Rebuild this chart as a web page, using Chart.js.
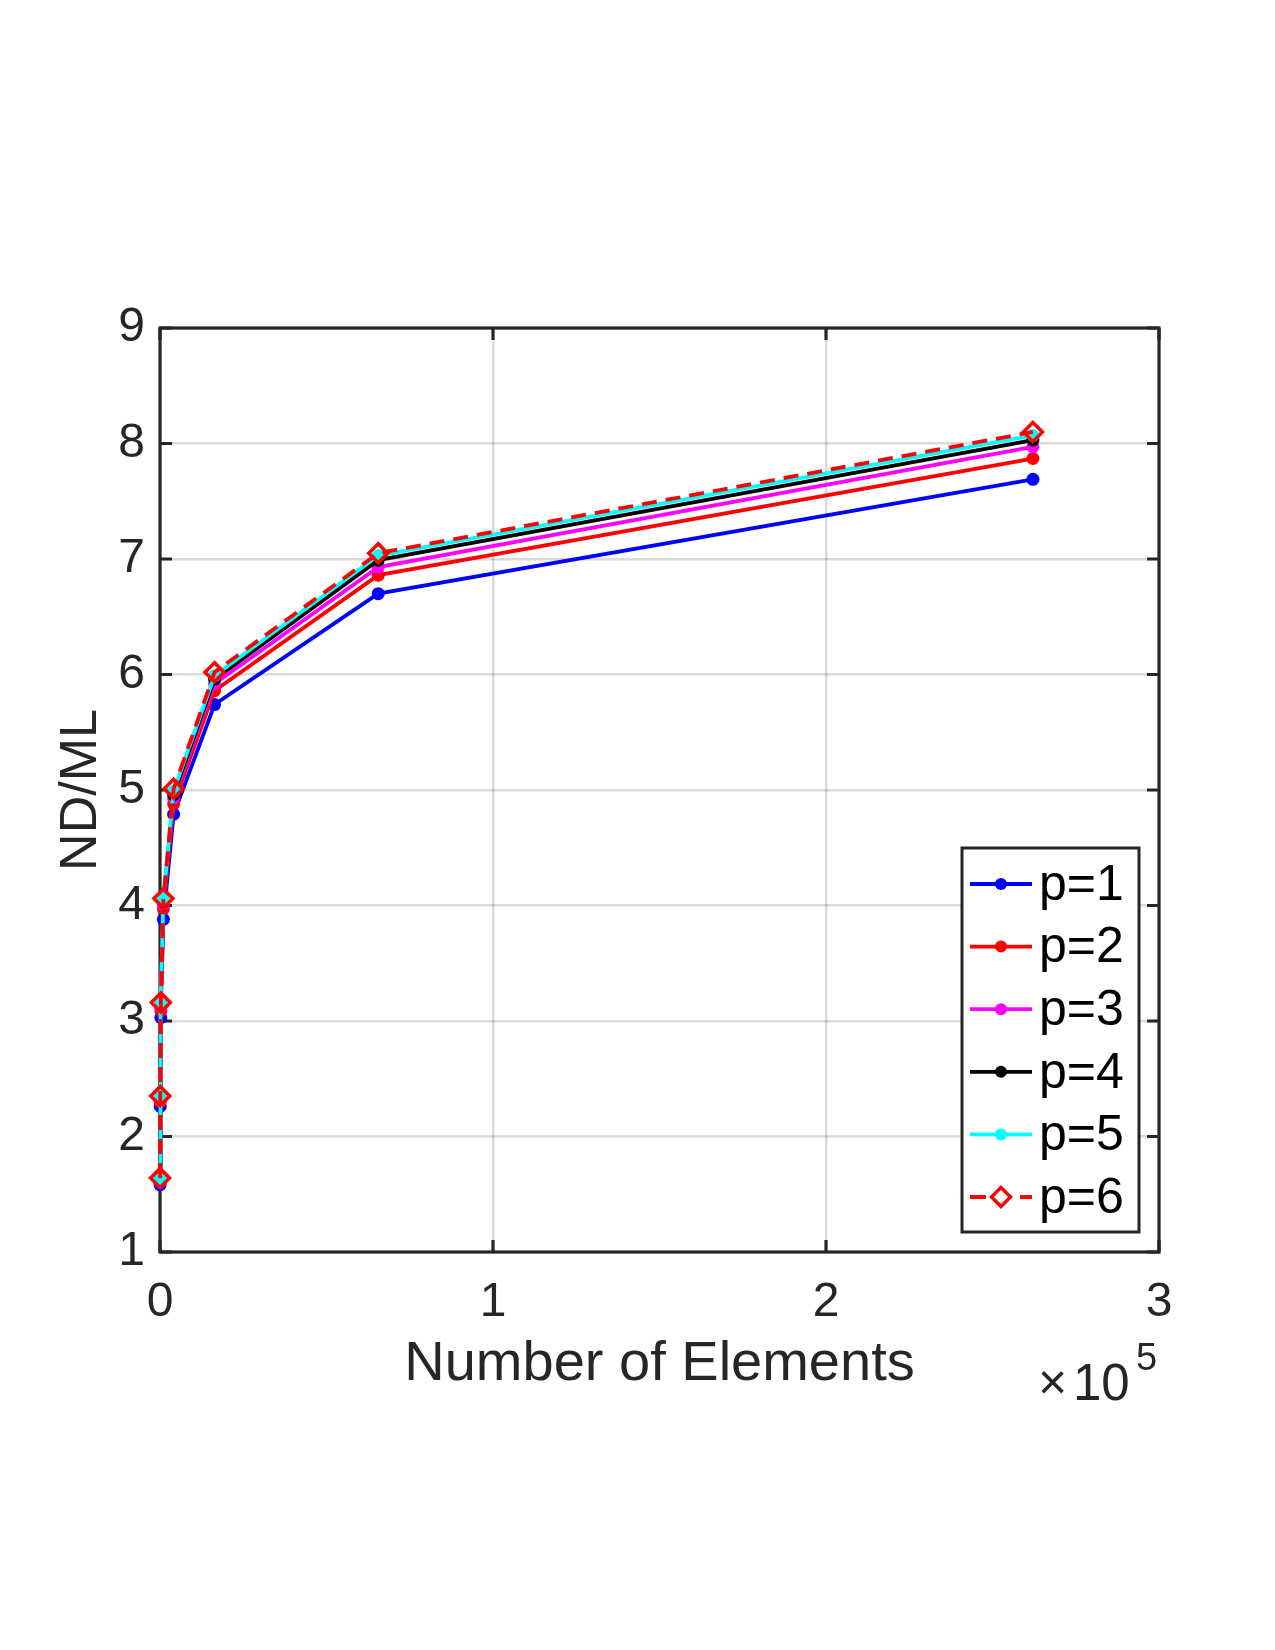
<!DOCTYPE html>
<html>
<head>
<meta charset="utf-8">
<script src="https://cdn.jsdelivr.net/npm/chart.js@4.4.0/dist/chart.umd.min.js"></script>
<style>
  html, body { margin: 0; padding: 0; background: #fff; }
  canvas { display: block; }
</style>
</head>
<body>
<canvas id="nd_graph" width="1275" height="1650"></canvas>
<script>
// number of elements (x) and ND/ML for each p
var elements = [16, 64, 256, 1024, 4096, 16384, 65536, 262144];
var p1 = [1.58, 2.26, 3.03, 3.88, 4.79, 5.74, 6.70, 7.69];
var p2 = [1.61, 2.30, 3.09, 3.97, 4.88, 5.86, 6.86, 7.87];
var p3 = [1.62, 2.32, 3.12, 4.01, 4.93, 5.92, 6.93, 7.97];
var p4 = [1.63, 2.33, 3.14, 4.03, 4.96, 5.96, 6.99, 8.03];
var p5 = [1.63, 2.34, 3.15, 4.05, 4.99, 5.99, 7.03, 8.07];
var p6 = [1.64, 2.35, 3.16, 4.06, 5.01, 6.02, 7.05, 8.10];
var labels = ["p=1", "p=2", "p=3", "p=4", "p=5", "p=6"];
var xTicks = [0, 100000, 200000, 300000];
var yTicks = [1, 2, 3, 4, 5, 6, 7, 8, 9];

var axisColor = "#262626";
var fontName = "'Liberation Sans', Arial, Helvetica, sans-serif";

function pts(ys) {
  return ys.map(function (y, i) { return { x: elements[i], y: y }; });
}

function dotSet(label, ys, color, order) {
  return {
    label: label,
    data: pts(ys),
    borderColor: color,
    backgroundColor: color,
    borderWidth: 3.8,
    pointRadius: 6.5,
    pointBorderWidth: 0,
    pointBackgroundColor: color,
    pointStyle: "circle",
    tension: 0,
    clip: false,
    order: order,
  };
}

var datasets = [
  dotSet(labels[0], p1, "#0000ff", 6),
  dotSet(labels[1], p2, "#ff0000", 5),
  dotSet(labels[2], p3, "#ff00ff", 4),
  dotSet(labels[3], p4, "#000000", 3),
  dotSet(labels[4], p5, "#00ffff", 2),
  {
    label: labels[5],
    data: pts(p6),
    borderColor: "#ff0000",
    backgroundColor: "rgba(0,0,0,0)",
    borderWidth: 3.8,
    borderDash: [15, 9],
    pointStyle: "rectRot",
    pointRadius: 9.5,
    pointBorderWidth: 3.5,
    pointBorderColor: "#ff0000",
    pointBackgroundColor: "rgba(0,0,0,0)",
    tension: 0,
    clip: false,
    order: 1,
  },
];

// box, inward ticks (MATLAB style)
const frameBox = {
  id: "frameBox",
  beforeDatasetsDraw(chart) {
    const ctx = chart.ctx;
    const a = chart.chartArea;
    const xs = chart.scales.x, ys = chart.scales.y;
    ctx.save();
    ctx.strokeStyle = axisColor;
    ctx.lineWidth = 3.2;
    ctx.beginPath();
    yTicks.forEach(function (v) {
      const py = ys.getPixelForValue(v);
      ctx.moveTo(a.left, py); ctx.lineTo(a.left + 12, py);
      ctx.moveTo(a.right, py); ctx.lineTo(a.right - 12, py);
    });
    xTicks.forEach(function (v) {
      const px = xs.getPixelForValue(v);
      ctx.moveTo(px, a.bottom); ctx.lineTo(px, a.bottom - 12);
      ctx.moveTo(px, a.top); ctx.lineTo(px, a.top + 12);
    });
    ctx.stroke();
    ctx.strokeRect(a.left, a.top, a.right - a.left, a.bottom - a.top);
    ctx.restore();
  },
  afterDraw(chart) {
    const ctx = chart.ctx;
    ctx.save();
    // x10^5 exponent label
    ctx.fillStyle = axisColor;
    ctx.textBaseline = "alphabetic";
    ctx.textAlign = "left";
    ctx.font = "50px " + fontName;
    ctx.fillText("\u00d7", 1038, 1399);
    ctx.font = "51px " + fontName;
    ctx.fillText("10", 1073, 1400);
    ctx.font = "38px " + fontName;
    ctx.fillText("5", 1136, 1370);

    // legend
    const bx = 962, by = 848, bw = 177, bh = 384;
    ctx.fillStyle = "#ffffff";
    ctx.fillRect(bx, by, bw, bh);
    ctx.strokeStyle = axisColor;
    ctx.lineWidth = 3;
    ctx.strokeRect(bx, by, bw, bh);
    chart.data.datasets.forEach(function (ds, i) {
      const ry = 884 + i * 62.6;
      ctx.save();
      ctx.strokeStyle = ds.borderColor;
      ctx.lineWidth = 3.8;
      if (ds.borderDash) ctx.setLineDash([16, 9]);
      ctx.beginPath();
      ctx.moveTo(970, ry); ctx.lineTo(1032, ry);
      ctx.stroke();
      ctx.setLineDash([]);
      if (ds.pointStyle === "rectRot") {
        ctx.fillStyle = "#ffffff";
        ctx.lineWidth = 3.5;
        ctx.beginPath();
        ctx.moveTo(1001, ry - 9.5); ctx.lineTo(1010.5, ry);
        ctx.lineTo(1001, ry + 9.5); ctx.lineTo(991.5, ry);
        ctx.closePath();
        ctx.fill(); ctx.stroke();
      } else {
        ctx.fillStyle = ds.borderColor;
        ctx.beginPath();
        ctx.arc(1001, ry, 6, 0, Math.PI * 2);
        ctx.fill();
      }
      ctx.fillStyle = "#000000";
      ctx.font = "50px " + fontName;
      ctx.textAlign = "left";
      ctx.textBaseline = "middle";
      ctx.fillText(ds.label, 1039, ry + 2);
      ctx.restore();
    });
    ctx.restore();
  },
};

const config_nd = {
  type: "line",
  data: { datasets: datasets },
  options: {
    responsive: false,
    animation: false,
    devicePixelRatio: 1,
    layout: { padding: { left: 0, top: 328, right: 116, bottom: 248 } },
    plugins: { legend: { display: false }, tooltip: { enabled: false } },
    scales: {
      x: {
        type: "linear",
        min: 0,
        max: 300000,
        afterBuildTicks: function (scale) {
          scale.ticks = xTicks.map(function (v) { return { value: v }; });
        },
        afterFit: function (scale) { scale.height = 150; },
        ticks: {
          padding: 22,
          color: axisColor,
          font: { family: fontName, size: 48 },
          callback: function (v) { return String(v / 100000); },
        },
        grid: { color: "rgba(38,38,38,0.17)", lineWidth: 2.5, drawTicks: false },
        border: { display: false },
        title: {
          display: true,
          text: "Number of Elements",
          color: axisColor,
          font: { family: fontName, size: 56 },
          padding: { top: 0, bottom: 4 },
        },
      },
      y: {
        type: "linear",
        min: 1,
        max: 9,
        afterBuildTicks: function (scale) {
          scale.ticks = yTicks.map(function (v) { return { value: v }; });
        },
        afterFit: function (scale) { scale.width = 160; },
        ticks: {
          padding: 15,
          color: axisColor,
          font: { family: fontName, size: 48 },
        },
        grid: { color: "rgba(38,38,38,0.17)", lineWidth: 2.5, drawTicks: false },
        border: { display: false },
        title: {
          display: true,
          text: "ND/ML",
          color: axisColor,
          font: { family: fontName, size: 52 },
          padding: { top: 50, bottom: 0 },
        },
      },
    },
  },
  plugins: [frameBox],
};

new Chart(document.getElementById("nd_graph"), config_nd);
</script>
</body>
</html>
